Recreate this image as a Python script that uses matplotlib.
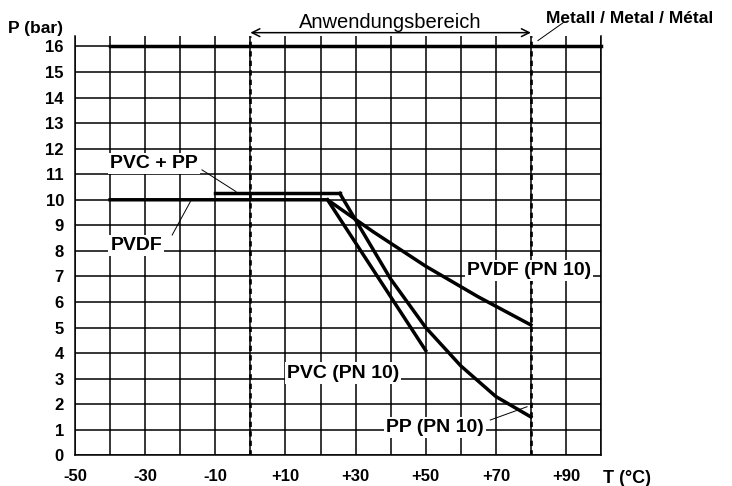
import matplotlib
matplotlib.use("Agg")
import matplotlib.pyplot as plt

plt.rcParams['font.family'] = ['Liberation Sans', 'DejaVu Sans']

# grid ticks / labels
x_ticks = list(range(-50, 101, 10))
x_labels = ['-50', '', '-30', '', '-10', '', '+10', '', '+30', '', '+50', '', '+70', '', '+90', '']
y_ticks = list(range(0, 17))

# curves (T in °C, P in bar)
metal_T = [-40, 100]
metal_P = [16, 16]
pvdf_T = [-40, 22, 35, 50, 65, 80]
pvdf_P = [10, 10, 8.75, 7.4, 6.2, 5.1]
pvc_pp_T = [-10, 25.5]
pvc_pp_P = [10.25, 10.25]
pvc_T = [22, 50]
pvc_P = [10, 4.1]
pp_T = [25.5, 40, 50, 60, 70, 80]
pp_P = [10.25, 6.9, 5.0, 3.5, 2.3, 1.5]

range_T = [0, 80]

fig = plt.figure(figsize=(7.32, 4.86), dpi=100)
ax = fig.add_axes([0.1025, 0.0632, 0.7186, 0.8617])
ax.set_xlim(-50, 100)
ax.set_ylim(0, 16.39)

ax.set_xticks(x_ticks)
ax.set_xticklabels(x_labels, fontsize=12, fontweight='bold')
ax.set_yticks(y_ticks)
ax.set_yticklabels([str(v) for v in y_ticks], fontsize=12, fontweight='bold')
ax.tick_params(axis='both', length=0)
ax.tick_params(axis='x', pad=10)
ax.tick_params(axis='y', pad=8)
ax.grid(True, color='black', linewidth=1.1)
ax.set_axisbelow(True)
for s in ['left', 'right', 'bottom']:
    ax.spines[s].set_linewidth(1.1)
ax.spines['top'].set_visible(False)

# application range (dashed verticals + double arrow)
for t in range_T:
    ax.axvline(t, color='black', linewidth=1.9, linestyle=(0, (2, 1.6)), zorder=3)
ax.annotate('', xy=(range_T[0], 16.54), xytext=(range_T[1], 16.54),
            arrowprops=dict(arrowstyle='<->', color='black', lw=1.1, mutation_scale=14,
                            shrinkA=0, shrinkB=0),
            annotation_clip=False)
ax.text(40, 16.71, 'Anwendungsbereich', fontsize=14.5, ha='center', va='baseline')

lw = 2.5
ax.plot(metal_T, metal_P, color='black', linewidth=lw, clip_on=False, zorder=4)
ax.plot(pvdf_T, pvdf_P, color='black', linewidth=lw, zorder=4)
ax.plot(pvc_pp_T, pvc_pp_P, color='black', linewidth=lw, zorder=4)
ax.plot(pvc_T, pvc_P, color='black', linewidth=lw, zorder=4)
ax.plot(pp_T, pp_P, color='black', linewidth=lw, zorder=4)

box = dict(facecolor='white', edgecolor='none', pad=1.5)
ax.text(-39.9, 11.23, 'PVC + PP', fontsize=14, fontweight='bold', va='baseline', bbox=box, zorder=5)
ax.plot([-13.8, -4.1], [11.17, 10.32], color='black', linewidth=0.7, zorder=5)
ax.text(-39.9, 8.03, 'PVDF', fontsize=14, fontweight='bold', va='baseline', bbox=box, zorder=5)
ax.plot([-22.3, -17.1], [8.62, 9.93], color='black', linewidth=0.7, zorder=5)
ax.text(10.4, 3.04, 'PVC (PN 10)', fontsize=14, fontweight='bold', va='baseline', bbox=box, zorder=5)
ax.text(61.8, 7.06, 'PVDF (PN 10)', fontsize=14, fontweight='bold', va='baseline', bbox=box, zorder=5)
ax.text(38.8, 0.92, 'PP (PN 10)', fontsize=14, fontweight='bold', va='baseline', bbox=box, zorder=5)
ax.plot([68.4, 78.9], [1.38, 1.9], color='black', linewidth=0.7, zorder=5)

ax.text(84.4, 16.93, 'Metall / Metal / Métal', fontsize=12.5, fontweight='bold',
        va='baseline', clip_on=False)
ax.plot([89.2, 82.0], [16.93, 16.23], color='black', linewidth=0.7, clip_on=False, zorder=5)

ax.text(-69.2, 16.52, 'P (bar)', fontsize=12.5, fontweight='bold', va='baseline', clip_on=False)
ax.text(100.7, -1.08, 'T (°C)', fontsize=13, fontweight='bold', va='baseline', clip_on=False)

fig.savefig('out.png', dpi=100)
